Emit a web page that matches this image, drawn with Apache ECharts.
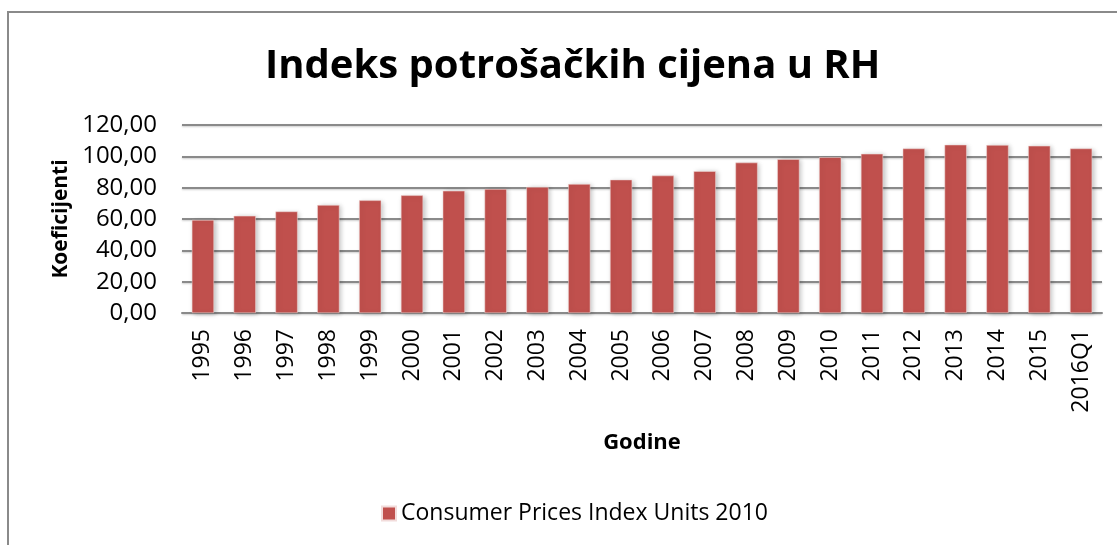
<!DOCTYPE html>
<html>
<head>
<meta charset="utf-8">
<script src="https://cdn.jsdelivr.net/npm/echarts@6/dist/echarts.min.js"></script>
<style>
  html, body { margin: 0; padding: 0; background: #fff; }
  #chart { width: 1117px; height: 545px; }
</style>
</head>
<body>
<div id="chart"></div>
<script>
// podaci
const godine = ['1995', '1996', '1997', '1998', '1999', '2000', '2001', '2002', '2003', '2004', '2005',
  '2006', '2007', '2008', '2009', '2010', '2011', '2012', '2013', '2014', '2015', '2016Q1']
const cpi = [59.4, 62.0, 64.8, 68.9, 71.9, 75.1, 78.0, 79.1, 80.4, 82.3, 85.1,
  87.7, 90.5, 96.0, 98.2, 99.4, 101.6, 105.0, 107.4, 107.2, 106.7, 105.0]
const seriesName = 'Consumer Prices Index Units 2010'

const font = '"Open Sans", "Noto Sans", sans-serif'
const chart = echarts.init(document.getElementById('chart'))

let option = {
  animation: false,
  textStyle: { fontFamily: font },
  title: {
    text: 'Indeks potrošačkih cijena u RH',
    left: 260,
    top: 42,
    textStyle: { fontSize: 40, fontWeight: 'bold', color: '#000', fontFamily: font }
  },
  graphic: [{
    type: 'rect',
    shape: { x: 8, y: 12, width: 1120, height: 600 },
    style: { fill: 'none', stroke: '#8a8a8a', lineWidth: 2 },
    silent: true
  }],
  legend: {
    bottom: 15,
    left: 376,
    itemWidth: 14,
    itemHeight: 14,
    icon: 'rect',
    itemGap: 6,
    textStyle: { fontSize: 23, color: '#000', fontFamily: font },
    data: [seriesName]
  },
  grid: {
    left: 182,
    right: 15,
    top: 125,
    bottom: 232,
    containLabel: false
  },
  xAxis: {
    type: 'category',
    data: godine,
    name: 'Godine',
    nameLocation: 'middle',
    nameGap: 119,
    nameTextStyle: { fontSize: 22, fontWeight: 'bold', color: '#000' },
    axisTick: { show: false },
    axisLine: { lineStyle: { color: '#8a8a8a', width: 2 } },
    axisLabel: { rotate: 90, margin: 16, fontSize: 23, color: '#000' }
  },
  yAxis: {
    type: 'value',
    min: 0,
    max: 120,
    interval: 20,
    name: 'Koeficijenti',
    nameLocation: 'middle',
    nameGap: 108,
    nameTextStyle: { fontSize: 21, fontWeight: 'bold', color: '#000' },
    axisLine: { show: false },
    axisTick: { show: false },
    axisLabel: {
      margin: 25,
      fontSize: 24,
      color: '#000',
      formatter: v => v.toFixed(2).replace('.', ',')
    },
    splitLine: {
      lineStyle: { color: '#8a8a8a', width: 2, shadowColor: 'rgba(0,0,0,0.2)', shadowBlur: 2, shadowOffsetY: 1 }
    }
  },
  series: [{
    name: seriesName,
    type: 'bar',
    data: cpi,
    barCategoryGap: '47%',
    itemStyle: {
      color: '#C0504D',
      borderColor: '#f2dcdb',
      borderWidth: 0.5,
      shadowColor: 'rgba(0,0,0,0.25)',
      shadowBlur: 5,
      shadowOffsetX: 2,
      shadowOffsetY: 1
    }
  }]
}

chart.setOption(option)
</script>
</body>
</html>
